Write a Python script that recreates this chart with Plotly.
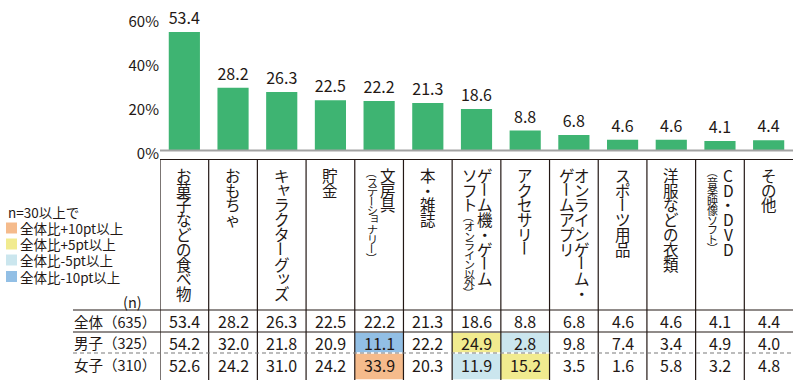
import plotly.graph_objects as go

# ---------------- data ----------------
categories = ["お菓子などの食べ物", "おもちゃ", "キャラクターグッズ", "貯金",
              "文房具（ステーショナリー）", "本・雑誌", "ゲーム機・ゲームソフト（オンライン以外）",
              "アクセサリー", "オンラインゲーム・ゲームアプリ", "スポーツ用品",
              "洋服などの衣類", "CD・DVD（音楽映像ソフト）", "その他"]
# how each category name is broken into vertical lines (right-most line first)
label_columns = [
    ["お菓子などの食べ物"],
    ["おもちゃ"],
    ["キャラクターグッズ"],
    ["貯金"],
    ["文房具", "（ステーショナリー）"],
    ["本・雑誌"],
    ["ゲーム機・ゲーム", "ソフト（オンライン以外）"],
    ["アクセサリー"],
    ["オンラインゲーム・", "ゲームアプリ"],
    ["スポーツ用品"],
    ["洋服などの衣類"],
    ["CD・DVD", "（音楽映像ソフト）"],
    ["その他"],
]
total = [53.4, 28.2, 26.3, 22.5, 22.2, 21.3, 18.6, 8.8, 6.8, 4.6, 4.6, 4.1, 4.4]
boys = [54.2, 32.0, 21.8, 20.9, 11.1, 22.2, 24.9, 2.8, 9.8, 7.4, 3.4, 4.9, 4.0]
girls = [52.6, 24.2, 31.0, 24.2, 33.9, 20.3, 11.9, 15.2, 3.5, 1.6, 5.8, 3.2, 4.8]
groups = ["全体", "男子", "女子"]
group_n = [635, 325, 310]
y_ticks = [0, 20, 40, 60]
y_tick_labels = ["0%", "20%", "40%", "60%"]
legend_title = "n=30以上で"
legend_labels = ["全体比+10pt以上", "全体比+5pt以上", "全体比-5pt以上", "全体比-10pt以上"]
n_label = "(n)"

# ---------------- style ----------------
W, H = 800, 380
FONT = "Noto Sans CJK JP"
INK = "#231815"
GREEN = "#3eb472"
C_HI10, C_HI5, C_LO5, C_LO10 = "#f5bb8c", "#f1eb8f", "#cbe6ee", "#92bfe5"
legend_colors = [C_HI10, C_HI5, C_LO5, C_LO10]


def yp(px):
    return 1 - px / H


def xp(px):
    return px / W


PX_PER_PCT = 2.21
BASE = 150.0
N = len(categories)

fig = go.Figure(go.Bar(
    x=categories, y=total, width=0.64,
    marker=dict(color=GREEN, line_width=0),
    text=[f"{v:.1f}" for v in total], textposition="outside",
    textfont=dict(size=16, color=INK, family=FONT),
    constraintext="none", cliponaxis=False, hoverinfo="skip",
))

fig.update_layout(
    template="none",
    width=W, height=H, margin=dict(l=0, r=0, t=0, b=0, pad=0, autoexpand=False),
    paper_bgcolor="white", plot_bgcolor="white", showlegend=False,
    font=dict(family=FONT, color=INK),
    xaxis=dict(domain=[xp(160), xp(793)], range=[-0.5, N - 0.5], automargin=False,
               showticklabels=False, showgrid=False, zeroline=False, showline=False, ticks=""),
    yaxis=dict(domain=[yp(BASE), yp(BASE - 60 * PX_PER_PCT)], range=[0, 60], automargin=False,
               tickmode="array", tickvals=y_ticks, ticktext=y_tick_labels, ticks="",
               tickfont=dict(size=15, color=INK, family=FONT),
               ticklabelshift=4,
               showgrid=False, zeroline=False, showline=False),
)

shapes = []
ann = []

# axis baseline
shapes.append(dict(type="line", xref="x", yref="paper", x0=-0.54, x1=N - 0.5,
                   y0=yp(150.5), y1=yp(150.5), line=dict(color="#a3a3a3", width=2.2)))
# table top border
shapes.append(dict(type="line", xref="x", yref="paper", x0=-0.5, x1=N - 0.5,
                   y0=yp(159.5), y1=yp(159.5), line=dict(color=INK, width=1.2)))
# column separators
for i in range(N):
    shapes.append(dict(type="line", xref="x", yref="paper", x0=i - 0.5, x1=i - 0.5,
                       y0=yp(159.5), y1=yp(380), line=dict(color=INK, width=1.2)))
# row lines
row_tops = [310, 332, 353]
row_bottoms = [332, 353, 380]
shapes.append(dict(type="line", xref="paper", yref="paper", x0=xp(73), x1=xp(793),
                   y0=yp(310), y1=yp(310), line=dict(color=INK, width=1.2)))
shapes.append(dict(type="line", xref="paper", yref="paper", x0=xp(73), x1=xp(793),
                   y0=yp(332), y1=yp(332), line=dict(color=INK, width=1.2)))
shapes.append(dict(type="line", xref="paper", yref="paper", x0=xp(73), x1=xp(793),
                   y0=yp(353), y1=yp(353), line=dict(color="#7a7a7a", width=1.2, dash="4px,3px")))


def highlight(diff):
    if diff >= 10:
        return C_HI10
    if diff >= 5:
        return C_HI5
    if diff <= -10:
        return C_LO10
    if diff <= -5:
        return C_LO5
    return None


rows = [total, boys, girls]
for r, vals in enumerate(rows):
    yc = (row_tops[r] + row_bottoms[r]) / 2 - (2 if r == 2 else 0)
    for i, v in enumerate(vals):
        if r > 0 and group_n[r] >= 30:
            c = highlight(v - total[i])
            if c:
                shapes.append(dict(type="rect", xref="x", yref="paper", layer="below",
                                   x0=i - 0.5, x1=i + 0.5,
                                   y0=yp(row_tops[r] + 0.8), y1=yp(row_bottoms[r] - 0.8),
                                   fillcolor=c, line_width=0))
        ann.append(dict(xref="x", yref="paper", x=i, y=yp(yc), text=f"{v:.1f}",
                        showarrow=False, xanchor="center", yanchor="middle",
                        font=dict(size=16, color=INK, family=FONT)))
    ann.append(dict(xref="paper", yref="paper", x=xp(72), y=yp(yc),
                    text=f"{groups[r]}（{group_n[r]}）", showarrow=False,
                    xanchor="left", yanchor="middle", font=dict(size=14.5, color=INK, family=FONT)))

ann.append(dict(xref="paper", yref="paper", x=xp(144), y=yp(301), text=n_label,
                showarrow=False, xanchor="right", yanchor="middle",
                font=dict(size=14.5, color=INK, family=FONT)))

# legend
ann.append(dict(xref="paper", yref="paper", x=xp(6), y=yp(212), text=legend_title,
                showarrow=False, xanchor="left", yanchor="middle",
                font=dict(size=13.5, color=INK, family=FONT)))
leg_y = [228, 244, 260, 276.5]
for k, lab in enumerate(legend_labels):
    shapes.append(dict(type="rect", xref="paper", yref="paper",
                       x0=xp(6), x1=xp(17), y0=yp(leg_y[k] - 5.5), y1=yp(leg_y[k] + 5.5),
                       fillcolor=legend_colors[k], line_width=0))
    ann.append(dict(xref="paper", yref="paper", x=xp(17.5), y=yp(leg_y[k]), text=lab,
                    showarrow=False, xanchor="left", yanchor="middle",
                    font=dict(size=13.5, color=INK, family=FONT)))

# vertical (tategaki) category labels, one glyph per step
MAIN_PITCH, SMALL_PITCH = 14.75, 9.5
MAIN_SIZE, SMALL_SIZE = 15.5, 11
TOP = 175 - MAIN_PITCH / 2
ROTATE = set("ー（）")
SMALL_KANA = set("ャュョッァィゥェォ")


def add_vertical(i, text, xoff):
    y = TOP
    small = False
    for ch in text:
        if ch == "（":
            small = True
        pitch = SMALL_PITCH if small else MAIN_PITCH
        yc = y + pitch / 2
        y += pitch
        dx, dy = 0, 0
        if ch in SMALL_KANA:
            dx, dy = 2.5, 2.5
        ann.append(dict(xref="x", yref="paper", x=i, y=yp(yc), text=ch,
                        xshift=xoff + dx, yshift=dy, showarrow=False,
                        xanchor="center", yanchor="middle", borderpad=0,
                        textangle=90 if ch in ROTATE else 0,
                        font=dict(size=SMALL_SIZE if small else MAIN_SIZE,
                                  color=INK, family=FONT)))
        if ch == "）":
            small = False


for i, cols in enumerate(label_columns):
    if len(cols) == 1:
        add_vertical(i, cols[0], 0)
    else:
        add_vertical(i, cols[0], 8.5)
        add_vertical(i, cols[1], -7)

fig.update_layout(shapes=shapes, annotations=ann)
fig.write_html("out.html", config={"displayModeBar": False},
               post_script="document.body.style.margin='0';document.body.style.overflow='hidden';")
